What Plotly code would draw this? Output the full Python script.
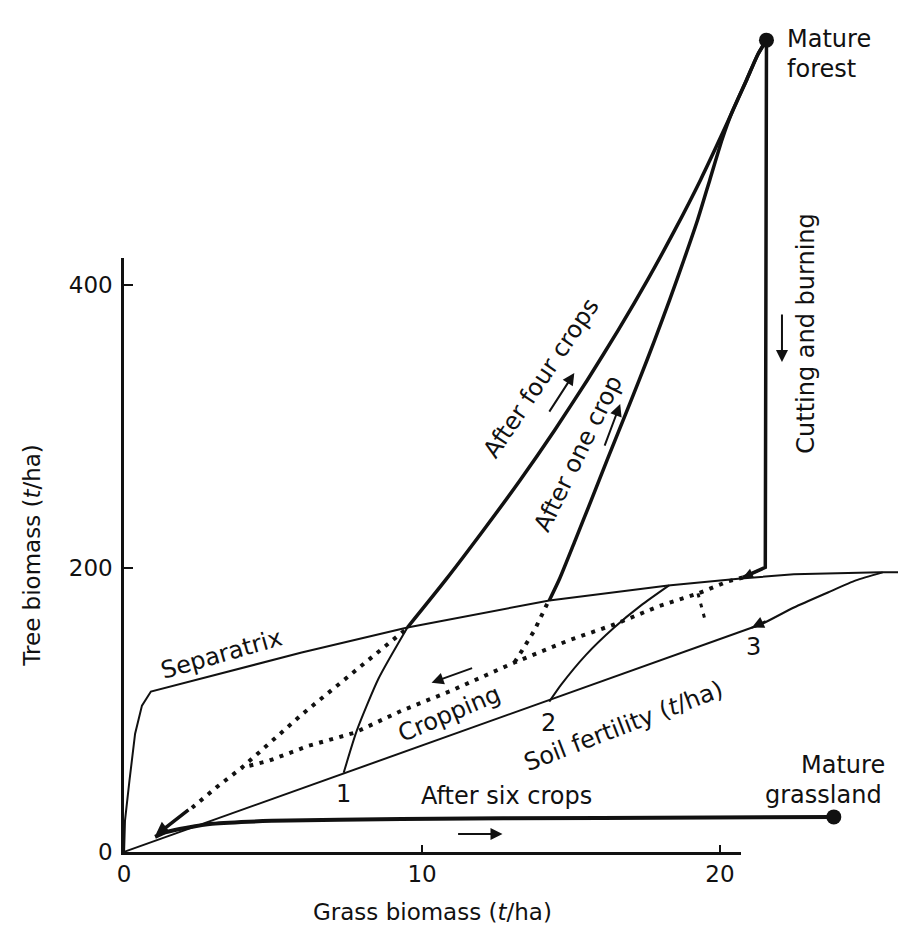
import plotly.graph_objects as go

# ---------------- data (grass biomass t/ha, tree biomass t/ha) ----------------
sep_x = [0, 0.03, 0.18, 0.37, 0.60, 0.90, 5.96, 9.51, 14.27, 18.26, 20.70, 22.48, 25.39, 26.0]
sep_y = [0, 21.9, 50.2, 83.4, 103.2, 113.1, 140.6, 158.3, 177.4, 188.0, 192.9, 195.8, 197.2, 197.2]

four_x = [9.51, 10.78, 12.06, 13.29, 14.45, 15.55, 16.59, 17.57, 18.49, 19.35, 20.14, 20.40, 20.90, 21.27, 21.56]
four_y = [158.3, 191.5, 226.9, 262.2, 297.5, 332.9, 368.2, 403.5, 438.9, 474.2, 509.5, 521.6, 544.9, 562.5, 572.6]

one_x = [14.27, 14.62, 15.14, 15.68, 16.21, 16.75, 17.29, 17.81, 18.31, 18.79, 19.25, 19.66, 20.07, 20.40, 20.90, 21.27, 21.56]
one_y = [177.4, 192.9, 219.8, 248.1, 276.3, 304.6, 332.9, 361.1, 389.4, 417.7, 445.9, 474.2, 502.5, 521.6, 544.9, 562.5, 572.6]

cut_x = [21.56, 21.52, 20.77]
cut_y = [572.6, 200.7, 193.6]

rec1_x = [7.37, 7.81, 8.54, 9.51]
rec1_y = [55.8, 85.5, 122.3, 158.3]

rec2_x = [14.27, 14.67, 15.51, 16.45, 17.35, 18.29]
rec2_y = [106.0, 118.0, 139.2, 158.3, 173.9, 188.0]

rec3_x = [25.46, 24.56, 23.62, 22.48, 21.37, 21.05]
rec3_y = [197.2, 191.5, 183.0, 172.4, 160.4, 158.0]

fert_x = [0, 21.27]
fert_y = [0, 159.7]

six_x = [1.04, 1.44, 2.11, 2.95, 4.96, 9.31, 16.01, 23.82]
six_y = [10.6, 14.1, 17.0, 19.8, 21.9, 23.3, 24.0, 24.7]

crop1_x = [20.77, 20.27, 19.26, 17.92, 16.45, 14.91, 13.10, 10.99, 9.31, 7.74, 6.20, 4.86, 3.95]
crop1_y = [193.6, 190.8, 182.3, 173.1, 160.4, 149.1, 133.6, 113.8, 99.6, 84.1, 74.9, 64.3, 59.4]

crop2_x = [14.2, 13.77, 13.40, 13.10]
crop2_y = [175.0, 156.2, 143.5, 133.6]

crop3_x = [9.41, 7.64, 5.96, 4.52, 3.95, 3.12, 2.28]
crop3_y = [156.2, 125.8, 96.8, 70.0, 59.4, 45.9, 31.1]

crop4_x = [19.26, 19.40, 19.53]
crop4_y = [182.3, 171.7, 161.1]

states_x = [21.56, 23.82]
states_y = [572.6, 24.7]

x_ticks = [0, 10, 20]
y_ticks = [0, 200, 400]
x_axis_max = 20.70
y_axis_max = 419.0

# ---------------- layout geometry ----------------
W, H = 898, 929
OX, OY = 118.0, 864.0          # pixel of origin
PXX, PXY = 30.03, 1.4378        # pixels per data unit

INK = "#111111"
FONT = "DejaVu Sans"
FS = 24
TFS = 23

xr = [-OX / PXX, (W - OX) / PXX]
yr = [-(H - OY) / PXY, OY / PXY]
ax_end_px = OX + x_axis_max * PXX
ay_end_px = OY - y_axis_max * PXY

fig = go.Figure()


def line(x, y, width, dash=None, shape="linear"):
    fig.add_trace(go.Scatter(
        x=x, y=y, mode="lines", xaxis="x", yaxis="y",
        line=dict(color=INK, width=width, dash=dash, shape=shape, smoothing=0.6),
        hoverinfo="skip", showlegend=False))


DOT = "4px,6.5px"
line(sep_x, sep_y, 2)
line(fert_x, fert_y, 2)
line(rec1_x, rec1_y, 2, shape="spline")
line(rec2_x, rec2_y, 2, shape="spline")
line(rec3_x, rec3_y, 2, shape="spline")
line(crop1_x, crop1_y, 4, dash=DOT)
line(crop2_x, crop2_y, 4, dash=DOT)
line(crop3_x, crop3_y, 4, dash=DOT)
line(crop4_x, crop4_y, 3, dash=DOT)
line(four_x, four_y, 3.5, shape="spline")
line(one_x, one_y, 3.5, shape="spline")
line(cut_x, cut_y, 3.5)
line(six_x, six_y, 4, shape="spline")

fig.add_trace(go.Scatter(
    x=states_x, y=states_y, mode="markers", xaxis="x", yaxis="y",
    marker=dict(color=INK, size=15), hoverinfo="skip", showlegend=False))

# dummy trace so the visible axes subplot renders
fig.add_trace(go.Scatter(x=[None], y=[None], xaxis="x2", yaxis="y2",
                         mode="lines", hoverinfo="skip", showlegend=False))

ann = []


def text(t, x, y, angle=0, xanchor="center", yanchor="middle", size=FS):
    ann.append(dict(text=t, x=x, y=y, xref="x", yref="y", showarrow=False,
                    textangle=angle, xanchor=xanchor, yanchor=yanchor,
                    borderpad=0,
                    font=dict(family=FONT, size=size, color=INK)))


def arrow(x0, y0, x1, y1, width=2, head=2, size=1.2):
    ann.append(dict(text="", x=x1, y=y1, ax=x0, ay=y0, xref="x", yref="y",
                    axref="x", ayref="y", showarrow=True, arrowhead=head,
                    arrowsize=size, arrowwidth=width, arrowcolor=INK, standoff=0))


text("Mature", 22.21, 562.5, xanchor="left", yanchor="bottom")
text("forest", 22.21, 562.5, xanchor="left", yanchor="top")
text("Mature", 24.12, 50.5, yanchor="bottom")
text("grassland", 23.49, 50.5, yanchor="top")
text("Cutting and burning", 22.88, 366.1, angle=-90)
text("After four crops", 14.00, 334.3, angle=-56)
text("After one crop", 15.25, 281.3, angle=-64)
text("Separatrix", 3.28, 139.9, angle=-16)
text("Cropping", 10.89, 97.5, angle=-23)
text("Soil fertility (<i>t</i>/ha)", 16.75, 89.0, angle=-21)
text("1", 7.37, 41.0)
text("2", 14.24, 91.2)
text("3", 21.14, 144.2)
text("After six crops", 12.83, 39.6)

arrow(11.73, 130.0, 10.32, 119.4)
arrow(22.08, 380.2, 22.08, 345.6)
arrow(14.24, 309.5, 15.11, 337.8)
arrow(16.11, 285.5, 16.65, 315.9)
arrow(11.16, 12.7, 12.70, 12.7)
arrow(21.58, 163.3, 21.07, 158.3)
arrow(2.21, 30.4, 1.04, 11.3, width=3.5, size=0.8)
arrow(21.37, 199.3, 20.77, 193.6, width=2.5, size=0.8)

axis_common = dict(showline=True, linecolor=INK, linewidth=2.5, ticks="inside",
                   tickcolor=INK, tickwidth=2, showgrid=False, zeroline=False,
                   tickfont=dict(family=FONT, size=TFS, color=INK), fixedrange=True)

fig.update_layout(
    width=W, height=H,
    margin=dict(l=0, r=0, t=0, b=0, pad=0),
    paper_bgcolor="white", plot_bgcolor="rgba(0,0,0,0)",
    showlegend=False,
    font=dict(family=FONT, size=FS, color=INK),
    xaxis=dict(domain=[0, 1], range=xr, visible=False, fixedrange=True),
    yaxis=dict(domain=[0, 1], range=yr, visible=False, fixedrange=True),
    xaxis2=dict(domain=[OX / W, ax_end_px / W], anchor="y2",
                range=[0, x_axis_max], tickvals=x_ticks, ticklen=7,
                title=dict(text="Grass biomass (<i>t</i>/ha)", standoff=18,
                           font=dict(family=FONT, size=TFS, color=INK)),
                **axis_common),
    yaxis2=dict(domain=[(H - OY) / H, (H - ay_end_px) / H], anchor="x2",
                range=[0, y_axis_max], tickvals=y_ticks, ticklen=9,
                ticklabelstandoff=4,
                title=dict(text="Tree biomass (<i>t</i>/ha)", standoff=22,
                           font=dict(family=FONT, size=TFS, color=INK)),
                **axis_common),
    annotations=ann,
)

fig.write_html("out.html", config={"displayModeBar": False},
               post_script="document.body.style.margin='0';")
